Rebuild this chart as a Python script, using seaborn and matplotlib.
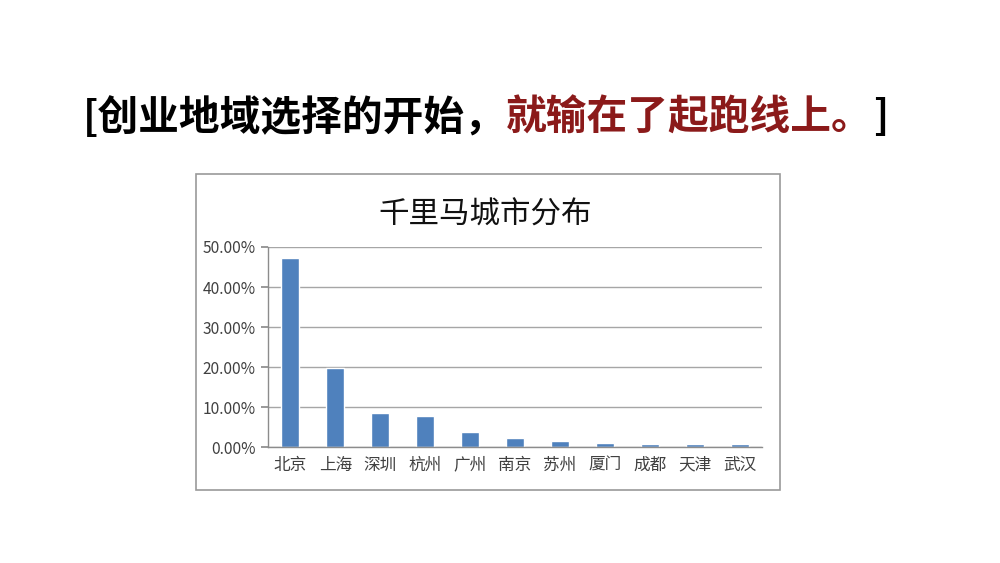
import matplotlib
matplotlib.use("Agg")
import matplotlib.pyplot as plt
import matplotlib.ticker as mtick
from matplotlib.patches import Rectangle
import pandas as pd
import seaborn as sns

# --- DATA ---
cities = ["北京", "上海", "深圳", "杭州", "广州", "南京", "苏州", "厦门", "成都", "天津", "武汉"]
shares = [0.473, 0.197, 0.086, 0.077, 0.037, 0.023, 0.015, 0.011, 0.007, 0.007, 0.007]
chart_title = "千里马城市分布"
heading_black = "[创业地域选择的开始，"
heading_red = "就输在了起跑线上。"
heading_end = "]"

df = pd.DataFrame({"city": cities, "share": shares})

sns.set_theme(style="white")
plt.rcParams['font.family'] = ['Noto Sans CJK SC', 'DejaVu Sans']

fig = plt.figure(figsize=(10, 5.63), dpi=100)
fig.patch.set_facecolor("white")

# chart frame (like an embedded Excel chart)
fig.patches.append(Rectangle((0.196, 1 - 490 / 563), 0.584, 316 / 563,
                             transform=fig.transFigure, fill=False,
                             edgecolor="#9a9a9a", linewidth=1.2))

ax = fig.add_axes([0.268, 116 / 563, 0.494, 200 / 563])
sns.barplot(data=df, x="city", y="share", color="#4F81BD", width=0.4,
            saturation=1, ax=ax)

ax.set_ylim(0, 0.5)
ax.set_xlim(-0.5, len(cities) - 0.5)
ax.yaxis.set_major_locator(mtick.MultipleLocator(0.1))
ax.yaxis.set_major_formatter(mtick.PercentFormatter(1.0, decimals=2))
ax.grid(axis="y", color="#a6a6a6", linewidth=1)
ax.set_axisbelow(True)
for side in ["top", "right"]:
    ax.spines[side].set_visible(False)
for side in ["left", "bottom"]:
    ax.spines[side].set_color("#8c8c8c")
    ax.spines[side].set_linewidth(1)
ax.set_xlabel("")
ax.set_ylabel("")

# tick marks between categories on x
ax.set_xticks([i + 0.5 for i in range(-1, len(cities))], minor=True)
ax.tick_params(axis="x", which="major", length=0, labelsize=12, colors="#404040", pad=7)
ax.tick_params(axis="x", which="minor", length=5, color="#8c8c8c", direction="out")
ax.tick_params(axis="y", length=5, color="#8c8c8c", labelsize=11.2, labelcolor="#404040",
               direction="out", pad=4, left=True)

fig.text(0.485, 1 - 215 / 563, chart_title, ha="center", va="center",
         fontsize=22, color="#111111")

# heading in two colours
fig.canvas.draw()
renderer = fig.canvas.get_renderer()
t1 = fig.text(0.083, 1 - 118 / 563, heading_black, ha="left", va="center",
              fontsize=29.3, fontweight="bold", color="black")
bb = t1.get_window_extent(renderer).transformed(fig.transFigure.inverted())
t2 = fig.text(bb.x1, 1 - 118 / 563, heading_red, ha="left", va="center",
              fontsize=29.3, fontweight="bold", color="#8B1A1A")
bb2 = t2.get_window_extent(renderer).transformed(fig.transFigure.inverted())
fig.text(bb2.x1, 1 - 118 / 563, heading_end, ha="left", va="center",
         fontsize=29.3, fontweight="bold", color="black")

fig.savefig("out.png", dpi=100)
